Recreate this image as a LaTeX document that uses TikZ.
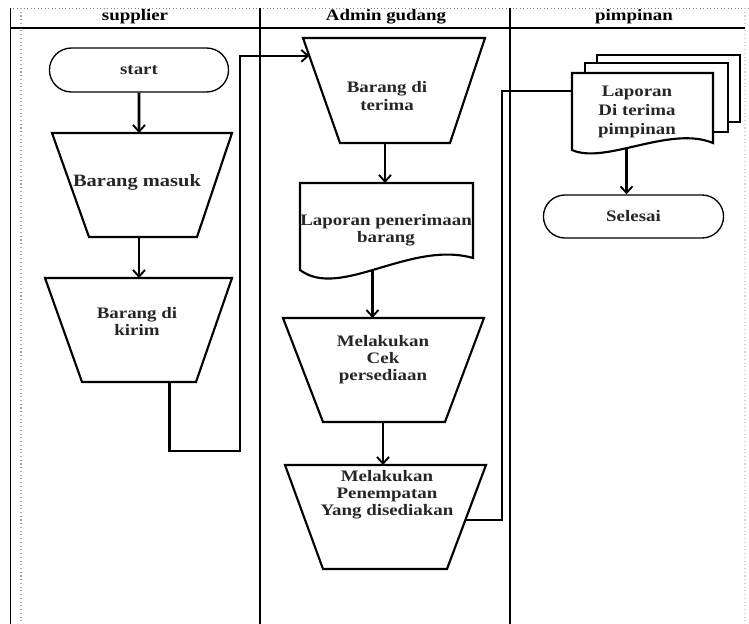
\documentclass[tikz,border=0pt]{standalone}
\usepackage{fontspec}
\setmainfont{Liberation Serif}[FakeStretch=1.18]
\usetikzlibrary{arrows.meta,calc,shapes.misc}
\begin{document}
\begin{tikzpicture}[x=0.75pt,y=-0.75pt,
  lane/.style={line width=0.8pt},
  shp/.style={line width=1.6pt, line join=miter, fill=white},
  termbox/.style={rounded rectangle, draw, line width=1pt, font=\fontsize{12}{13}\selectfont\bfseries, text=black!85},
  conn/.style={line width=2pt},
  arr/.style={conn,-{Straight Barb[length=5pt,width=9pt,line width=1.4pt]}},
  lbl/.style={font=\fontsize{12}{12.8}\selectfont\bfseries, align=center, text=black!85, inner sep=0pt},
  hdr/.style={font=\fontsize{12}{13}\selectfont\bfseries, inner sep=0pt}
]
\useasboundingbox (0,0) rectangle (749,624);
% frame and lanes
\draw[gray, dotted, line width=0.6pt] (10,8) -- (749,8);
\draw[line width=1pt] (10.5,8) -- (10.5,624);
\draw[gray!70, dotted, line width=0.8pt] (21,8) -- (21,624);
\draw[gray!35, dotted, line width=0.8pt] (745,8) -- (745,624);
\draw[lane] (10.5,28) -- (745,28);
\draw[lane] (260,8) -- (260,624);
\draw[lane] (510,8) -- (510,624);
\node[hdr] (h1) at (135,17) {supplier};
\node[hdr] (h2) at (386,17) {Admin gudang};
\node[hdr] (h3) at (634,17) {pimpinan};

% supplier lane
\node[termbox, minimum width=141pt, minimum height=33pt] (start) at (139,70) {start};

\coordinate (bm-tl) at (52,133); \coordinate (bm-tr) at (232,133);
\coordinate (bm-br) at (197,237); \coordinate (bm-bl) at (89,237);
\draw[shp] (bm-tl) -- (bm-tr) -- (bm-br) -- (bm-bl) -- cycle;
\node[lbl, font=\fontsize{13}{14}\selectfont\bfseries] (bm) at (137,182) {Barang masuk};

\coordinate (bk-tl) at (45,278); \coordinate (bk-tr) at (232,278);
\coordinate (bk-br) at (196,382); \coordinate (bk-bl) at (82,382);
\draw[shp] (bk-tl) -- (bk-tr) -- (bk-br) -- (bk-bl) -- cycle;
\node[lbl] (bk) at (137,321) {Barang di\\kirim};

% admin lane
\coordinate (bt-tl) at (303,38); \coordinate (bt-tr) at (485,38);
\coordinate (bt-br) at (450,143); \coordinate (bt-bl) at (340,143);
\draw[shp] (bt-tl) -- (bt-tr) -- (bt-br) -- (bt-bl) -- cycle;
\node[lbl] (bt) at (387,96) {Barang di\\terima};

\coordinate (d1-tl) at (300,183); \coordinate (d1-tr) at (473,183);
\coordinate (d1-top) at (385,183);
\draw[shp] (d1-tl) -- (d1-tr) -- (473,258) .. controls (410,240) and (340,300) .. (300,270) -- cycle;
\path (300,270) .. controls (340,300) and (410,240) .. (473,258) coordinate[pos=0.47] (d1-out);
\node[lbl] (d1) at (386,230) {Laporan penerimaan\\barang};

\coordinate (ck-tl) at (283,318); \coordinate (ck-tr) at (484,318);
\coordinate (ck-br) at (445,422); \coordinate (ck-bl) at (323,422);
\draw[shp] (ck-tl) -- (ck-tr) -- (ck-br) -- (ck-bl) -- cycle;
\node[lbl] (ck) at (383,360) {Melakukan\\Cek\\persediaan};
\coordinate (ck-out) at (383,422);

\coordinate (pn-tl) at (285,465); \coordinate (pn-tr) at (486,465);
\coordinate (pn-br) at (447,569); \coordinate (pn-bl) at (323,569);
\draw[shp] (pn-tl) -- (pn-tr) -- (pn-br) -- (pn-bl) -- cycle;
\node[lbl] (pn) at (387,495) {Melakukan\\Penempatan\\Yang disediakan};

% pimpinan lane
\draw[shp] (597,55) rectangle (740,122);
\draw[shp] (585,63) rectangle (728,132);
\draw[shp] (572,73) -- (713,73) -- (713,143) .. controls (670,125) and (605,165) .. (572,150) -- cycle;
\path (572,150) .. controls (605,165) and (670,125) .. (713,143) coordinate[pos=0.42] (ld-out);
\coordinate (ld-in) at (572,91);
\node[lbl, font=\fontsize{12}{14}\selectfont\bfseries] (ld) at (637,112) {Laporan\\Di terima\\pimpinan};

\node[termbox, minimum width=141.75pt, minimum height=32.25pt] (sel) at (633.5,216.5) {Selesai};

% connectors
\draw[arr] (start) -- (start |- bm-tl);
\draw[arr] (start |- bm-bl) -- (start |- bk-tl);
\coordinate (bk-out) at ($(bk-bl)!0.77!(bk-br)$);
\coordinate (bt-in) at ($(bt-tl)!0.17!(bt-bl)$);
\draw[arr] (bk-out) -- ++(0,69) -| (240,0 |- bt-in) -- (bt-in);
\draw[arr] (d1-top |- bt-bl) -- (d1-top);
\draw[arr] (d1-out) -- (d1-out |- ck-tl);
\draw[arr] (ck-out) -- (ck-out |- pn-tl);
\coordinate (pn-out) at ($(pn-tr)!0.53!(pn-br)$);
\draw[conn] (pn-out) -- (502,0 |- pn-out) -- (502,0 |- ld-in) -- (ld-in);
\draw[arr] (ld-out) -- (ld-out |- sel.north);
\end{tikzpicture}
\end{document}
